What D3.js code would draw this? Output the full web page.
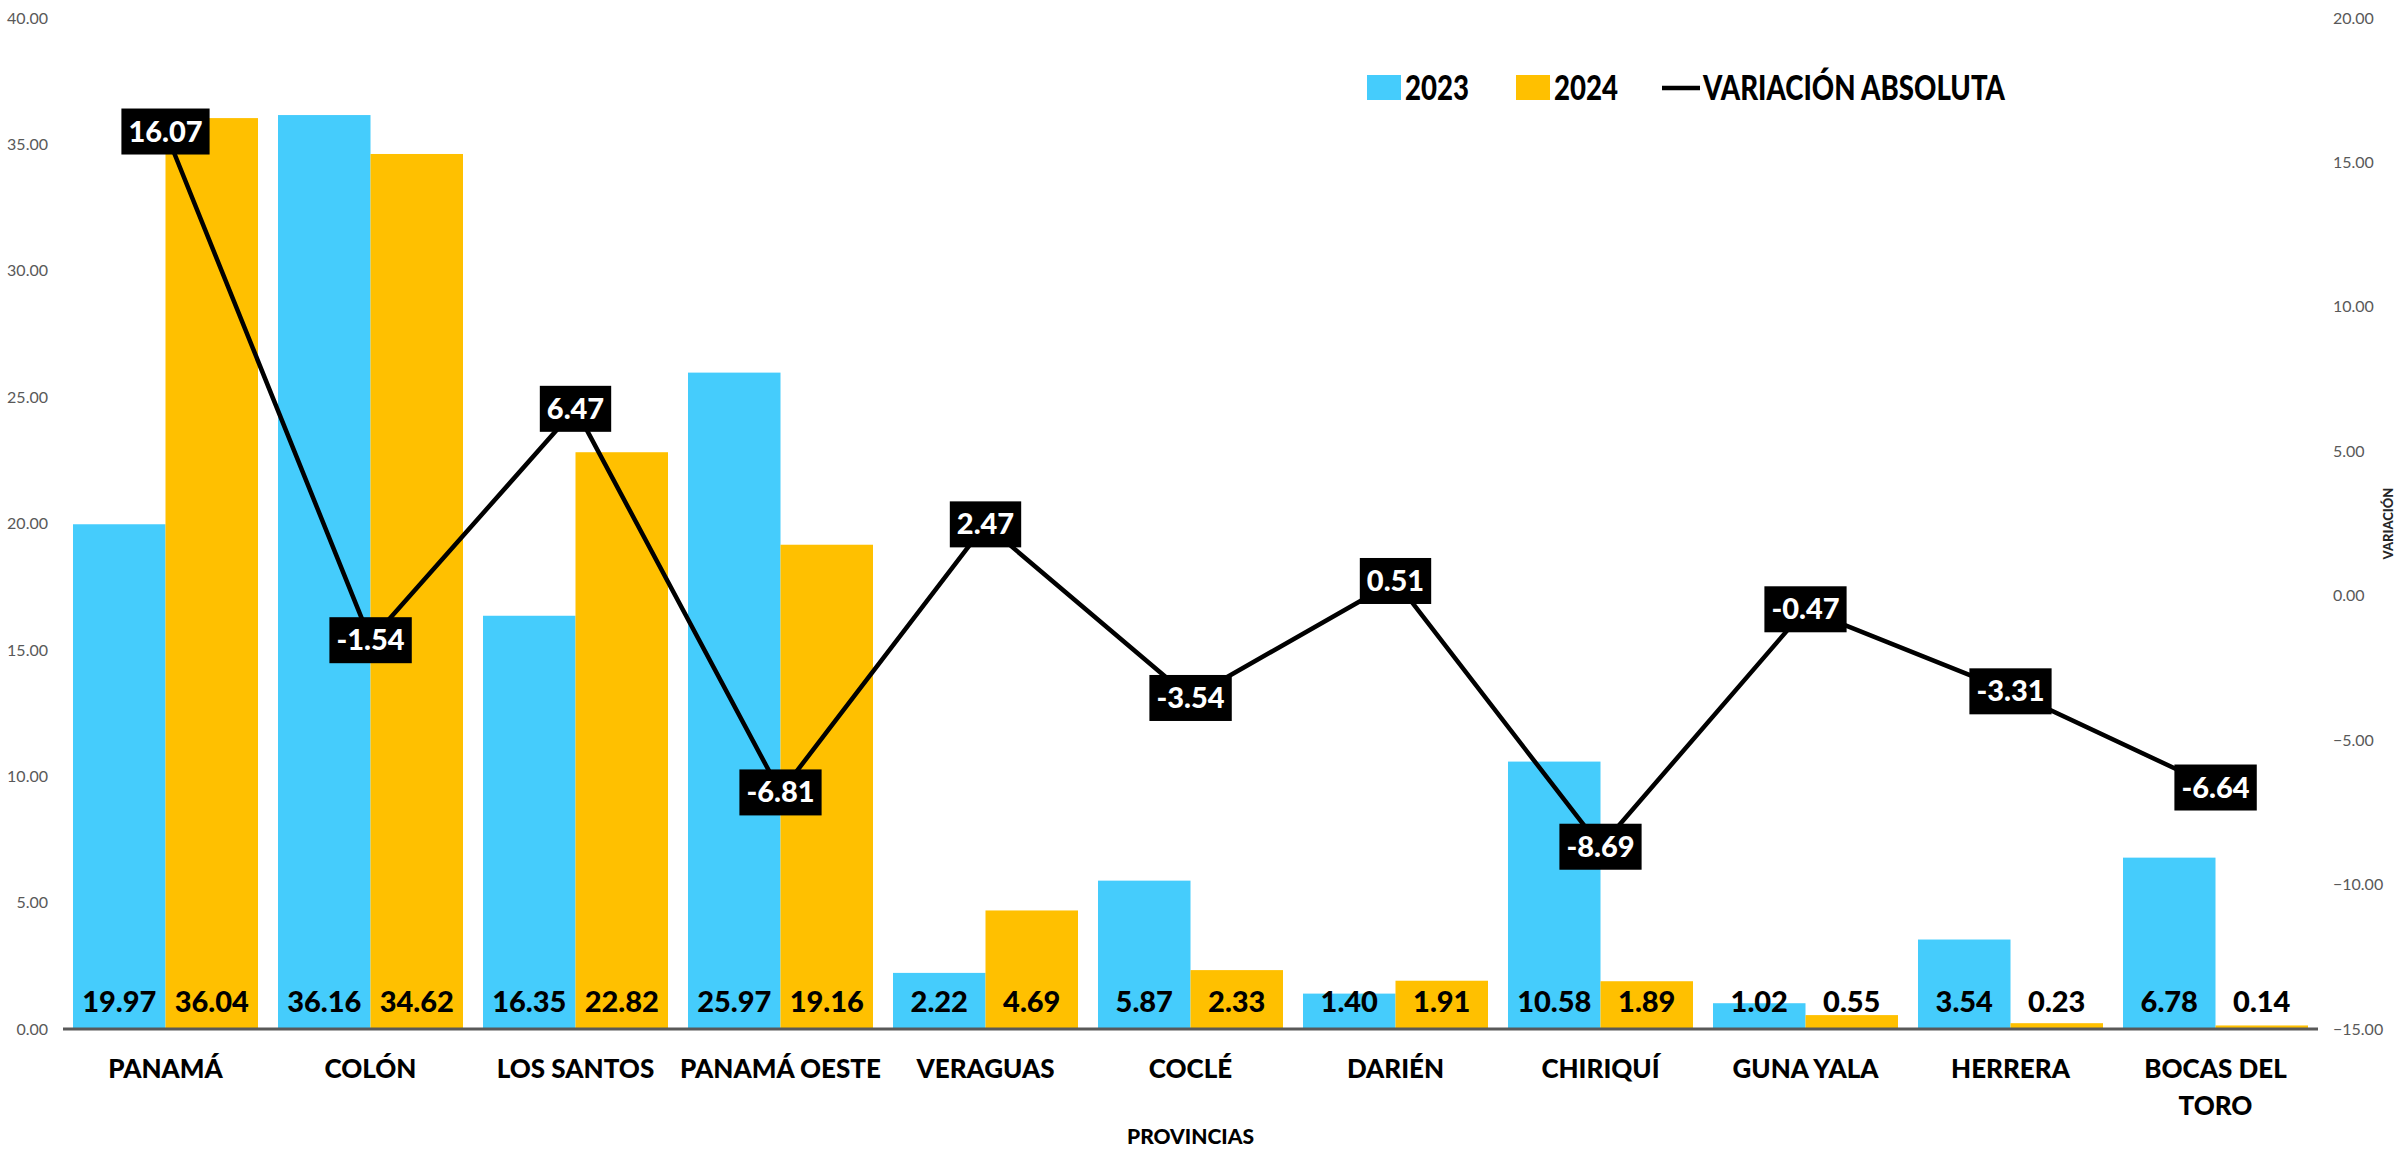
<!DOCTYPE html>
<html><head><meta charset="utf-8">
<script src="https://cdn.jsdelivr.net/npm/d3@7"></script>
<style>
html,body{margin:0;padding:0;background:#fff;}
svg{display:block;}
text{font-family:Lato,"Open Sans",sans-serif;}
</style></head>
<body>
<svg id="chart" width="2400" height="1150"></svg>
<script>
const categories = ["PANAMÁ","COLÓN","LOS SANTOS","PANAMÁ OESTE","VERAGUAS","COCLÉ","DARIÉN","CHIRIQUÍ","GUNA YALA","HERRERA","BOCAS DEL TORO"];
const categoryTickLines = [["PANAMÁ"],["COLÓN"],["LOS SANTOS"],["PANAMÁ OESTE"],["VERAGUAS"],["COCLÉ"],["DARIÉN"],["CHIRIQUÍ"],["GUNA YALA"],["HERRERA"],["BOCAS DEL","TORO"]];
const series = ["2023","2024"];
const values2023 = [19.97,36.16,16.35,25.97,2.22,5.87,1.40,10.58,1.02,3.54,6.78];
const values2024 = [36.04,34.62,22.82,19.16,4.69,2.33,1.91,1.89,0.55,0.23,0.14];
const variacion = [16.07,-1.54,6.47,-6.81,2.47,-3.54,0.51,-8.69,-0.47,-3.31,-6.64];
const leftTicks = [0,5,10,15,20,25,30,35,40];
const rightTicks = [-15,-10,-5,0,5,10,15,20];
const seriesColors = {"2023":"#45CCFC","2024":"#FFC000"};

const svg = d3.select("#chart");
const L = 63, R = 2318, T = 18, B = 1029;

const x0 = d3.scaleBand().domain(categories).range([L,R]).padding(0);
const x1 = d3.scaleBand().domain(series).range([10, x0.bandwidth()-10]).padding(0);
const yL = d3.scaleLinear().domain([0,40]).range([B,T]);
const yR = d3.scaleLinear().domain([-15,20]).range([B,T]);

// Axes (labels only)
const axL = svg.append("g").attr("transform",`translate(${L-15},0)`)
  .call(d3.axisLeft(yL).tickValues(leftTicks).tickFormat(d3.format(".2f")).tickSize(0).tickPadding(0));
axL.select(".domain").remove();
axL.selectAll("text").attr("font-size",16).attr("fill","#595959").style("font-family","Lato,sans-serif");

const axR = svg.append("g").attr("transform",`translate(${R+15},0)`)
  .call(d3.axisRight(yR).tickValues(rightTicks).tickFormat(d3.format(".2f")).tickSize(0).tickPadding(0));
axR.select(".domain").remove();
axR.selectAll("text").attr("font-size",16).attr("fill","#595959").style("font-family","Lato,sans-serif");

// Bars
const rows = categories.map((c,i)=>({cat:c, vals:[{s:"2023",v:values2023[i]},{s:"2024",v:values2024[i]}]}));
const g = svg.append("g");
const cg = g.selectAll("g.cat").data(rows).join("g").attr("class","cat")
  .attr("transform",d=>`translate(${x0(d.cat)},0)`);
cg.selectAll("rect").data(d=>d.vals).join("rect")
  .attr("x",d=>x1(d.s)).attr("width",x1.bandwidth())
  .attr("y",d=>yL(d.v)).attr("height",d=>B-yL(d.v))
  .attr("fill",d=>seriesColors[d.s]);
cg.selectAll("text.bl").data(d=>d.vals).join("text").attr("class","bl")
  .attr("x",d=>x1(d.s)+x1.bandwidth()/2).attr("y",1012)
  .attr("text-anchor","middle").attr("font-size",29).attr("font-weight",900)
  .attr("fill","#000").text(d=>d.v.toFixed(2));

// Baseline
svg.append("line").attr("x1",L).attr("x2",R).attr("y1",B).attr("y2",B)
  .attr("stroke","#595959").attr("stroke-width",3);

// Line
const cx = c => x0(c)+x0.bandwidth()/2;
const line = d3.line().x((d,i)=>cx(categories[i])).y(d=>yR(d));
svg.append("path").datum(variacion).attr("d",line).attr("fill","none")
  .attr("stroke","#000").attr("stroke-width",4.5).attr("stroke-linejoin","round");

// Line labels
const lbl = svg.append("g").selectAll("g").data(variacion).join("g")
  .attr("transform",(d,i)=>`translate(${cx(categories[i])},${yR(d)})`);
lbl.append("text").attr("text-anchor","middle").attr("y",10)
  .attr("font-size",29).attr("font-weight",900).attr("fill","#fff")
  .text(d=>d.toFixed(2));
lbl.each(function(){
  const t = d3.select(this).select("text");
  const bb = t.node().getBBox();
  d3.select(this).insert("rect","text")
    .attr("x",bb.x-7).attr("width",bb.width+14)
    .attr("y",-23).attr("height",46).attr("fill","#000");
});

// Category labels
const catG = svg.append("g");
categories.forEach((c,i)=>{
  const t = catG.append("text").attr("x",cx(c)).attr("y",1078)
    .attr("text-anchor","middle").attr("font-size",26).attr("font-weight",900).attr("fill","#000");
  categoryTickLines[i].forEach((ln,j)=>{
    t.append("tspan").attr("x",cx(c)).attr("dy",j===0?0:37).text(ln);
  });
});

// Axis titles
svg.append("text").attr("x",(L+R)/2).attr("y",1144).attr("text-anchor","middle")
  .attr("font-size",21).attr("font-weight",900).attr("fill","#000").text("PROVINCIAS");
svg.append("text").attr("transform",`translate(2393,${(T+B)/2}) rotate(-90)`).attr("text-anchor","middle")
  .attr("font-size",13).attr("font-weight",900).attr("fill","#262626").text("VARIACIÓN");

// Legend
const lg = svg.append("g");
lg.append("rect").attr("x",1367).attr("y",75).attr("width",34).attr("height",25).attr("fill",seriesColors["2023"]);
lg.append("text").attr("x",1405).attr("y",100).attr("font-size",34).attr("font-weight",900)
  .attr("textLength",64).attr("lengthAdjust","spacingAndGlyphs").text("2023");
lg.append("rect").attr("x",1516).attr("y",75).attr("width",34).attr("height",25).attr("fill",seriesColors["2024"]);
lg.append("text").attr("x",1554).attr("y",100).attr("font-size",34).attr("font-weight",900)
  .attr("textLength",64).attr("lengthAdjust","spacingAndGlyphs").text("2024");
lg.append("line").attr("x1",1662).attr("x2",1700).attr("y1",88).attr("y2",88).attr("stroke","#000").attr("stroke-width",4.5);
lg.append("text").attr("x",1703).attr("y",100).attr("font-size",34).attr("font-weight",900)
  .attr("textLength",302).attr("lengthAdjust","spacingAndGlyphs").text("VARIACIÓN ABSOLUTA");
</script>
</body></html>
